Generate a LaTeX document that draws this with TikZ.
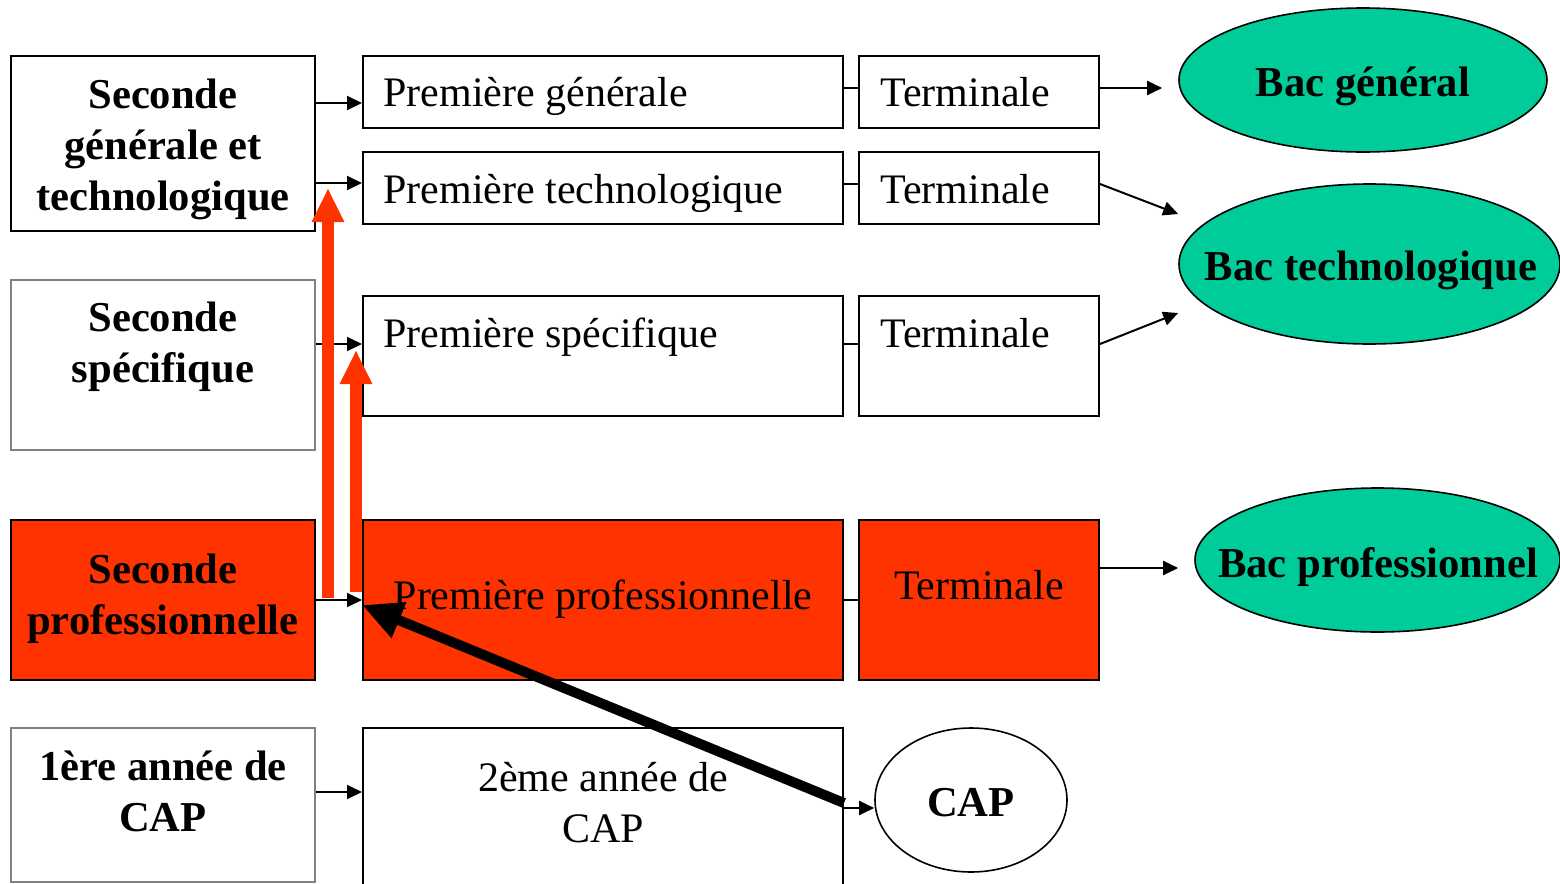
\documentclass[tikz,border=0pt]{standalone}
\usepackage{fontspec}
\setmainfont{Liberation Serif}
\usetikzlibrary{positioning,fit,calc,shapes.geometric,arrows.meta}
\definecolor{proRed}{HTML}{FF3300}
\definecolor{bacGreen}{HTML}{00CC99}
\begin{document}
\begin{tikzpicture}[x=0.5pt,y=-0.5pt,
        box/.style={draw, line width=1pt, inner sep=0pt},
        greybox/.style={draw=gray, line width=0.6pt, inner sep=0pt},
        probox/.style={box, fill=proRed},
        lbl/.style={font=\fontsize{21}{25.5}\selectfont, inner sep=0pt},
        blbl/.style={inner sep=0pt, align=center, font=\bfseries\fontsize{21.3}{25.5}\selectfont},
        oval/.style={ellipse, draw, line width=0.8pt, inner sep=0pt},
        bac/.style={oval, fill=bacGreen},
        arr/.style={line width=1pt, -{Triangle[length=7.5pt,width=7pt]}},
        link/.style={line width=1pt},
        uparrow/.style={color=proRed, line width=6pt, -{Triangle[length=17pt,width=15pt]}},
        bigarrow/.style={line width=5pt, -{Triangle[length=20pt,width=18pt]}}]
        \useasboundingbox (0,0) rectangle (1560,884);
        \node[box, fit={(11,56)(315,231)}] (sgt) {};
        \node[greybox, fit={(11,280)(315,450)}] (ssp) {};
        \node[probox, fit={(11,520)(315,680)}] (spro) {};
        \node[greybox, fit={(11,728)(315,882)}] (cap1) {};
        \node[box, fit={(363,56)(843,128)}] (pg) {};
        \node[box, fit={(363,152)(843,224)}] (pt) {};
        \node[box, fit={(363,296)(843,416)}] (ps) {};
        \node[probox, fit={(363,520)(843,680)}] (pp) {};
        \node[box, fit={(363,728)(843,900)}] (cap2) {};
        \node[box, fit={(859,56)(1099,128)}] (tg) {};
        \node[box, fit={(859,152)(1099,224)}] (tt) {};
        \node[box, fit={(859,296)(1099,416)}] (ts) {};
        \node[probox, fit={(859,520)(1099,680)}] (tp) {};
        \node[bac, minimum width=184pt, minimum height=72pt] (bg) at (1363,80) {};
        \node[bac, minimum width=190.5pt, minimum height=80pt] (bt) at (1369.5,264) {};
        \node[bac, minimum width=182.5pt, minimum height=72pt] (bp) at (1377.5,560) {};
        \node[oval, minimum width=96pt, minimum height=72pt] (cap) at (971,800) {};
        \node[blbl] (bg-t) at (1363,86) {Bac général};
        \node[blbl] (bt-t) at (1371,270) {Bac technologique};
        \node[blbl] (bp-t) at (1378,567) {Bac professionnel};
        \node[blbl] (cap-t) at (971,803) {CAP};
        \node[blbl] (sgt-t) at (163,149) {Seconde\\générale et\\technologique};
        \node[blbl] (ssp-t) at (163,347) {Seconde\\spécifique};
        \node[blbl] (spro-t) at (163,599) {Seconde\\professionnelle};
        \node[blbl] (cap1-t) at (163,791) {1ère année de\\CAP};
        \node[lbl, anchor=base west] (pg-t) at (383,106) {Première générale};
        \node[lbl, anchor=base west] (pt-t) at (383,203) {Première technologique};
        \node[lbl, anchor=base west] (ps-t) at (383,347) {Première spécifique};
        \node[lbl, anchor=base] (pp-t) at (603,609) {Première professionnelle};
        \node[lbl, align=center] (cap2-t) at (603,803) {2ème année de\\CAP};
        \node[lbl, anchor=base west] (tg-t) at (880,106) {Terminale};
        \node[lbl, anchor=base west] (tt-t) at (880,203) {Terminale};
        \node[lbl, anchor=base west] (ts-t) at (880,347) {Terminale};
        \node[lbl, anchor=base] (tp-t) at (979,599) {Terminale};
        \draw[arr] (sgt.east |- 0,103) -- (pg.west |- 0,103);
        \draw[arr] (sgt.east |- 0,183) -- (pt.west |- 0,183);
        \draw[arr] (ssp.east |- 0,344) -- (ps.west |- 0,344);
        \draw[arr] (spro.east |- 0,600) -- (pp.west |- 0,600);
        \draw[arr] (cap1.east |- 0,792) -- (cap2.west |- 0,792);
        \draw[link] (pg.east |- 0,88) -- (tg.west |- 0,88);
        \draw[link] (pt.east |- 0,184) -- (tt.west |- 0,184);
        \draw[link] (ps.east |- 0,344) -- (ts.west |- 0,344);
        \draw[link] (pp.east |- 0,600) -- (tp.west |- 0,600);
        \draw[arr] (cap2.east |- 0,808) -- (cap.west |- 0,808);
        \draw[arr] (tg.east |- 0,88) -- ($(bg.west |- 0,88)+(-16,0)$);
        \draw[arr] (tt.east |- 0,184) -- (bt.west |- 0,214);
        \draw[arr] (ts.east |- 0,344) -- (bt.west |- 0,313);
        \draw[arr] (tp.east |- 0,568) -- ($(bp.west |- 0,568)+(-16,0)$);
        \draw[uparrow] ($(spro.east |- 0,598)+(12,0)$) -- ($(sgt.east |- 0,188)+(12,0)$);
        \draw[uparrow] ($(pp.west |- 0,592)+(-6,0)$) -- ($(ps.west |- 0,350)+(-6,0)$);
        \draw[bigarrow] (cap2.east |- 0,803) -- (pp.west |- 0,605);
\end{tikzpicture}
\end{document}
